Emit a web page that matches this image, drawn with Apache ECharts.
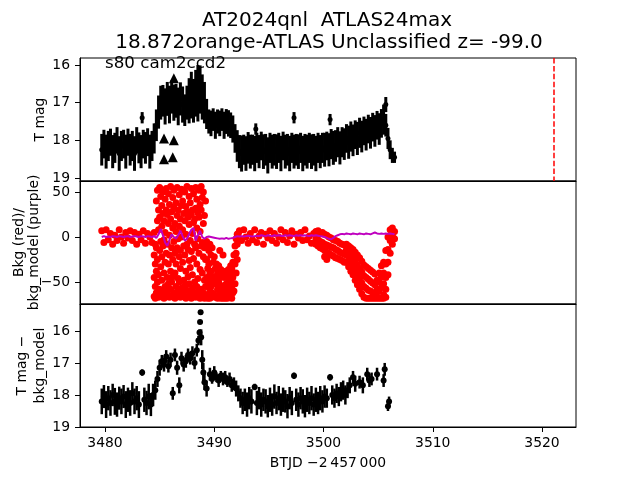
<!DOCTYPE html>
<html><head><meta charset="utf-8">
<script src="https://cdn.jsdelivr.net/npm/echarts@6/dist/echarts.min.js"></script>
<style>html,body{margin:0;padding:0;background:#fff}#c{width:640px;height:480px}</style>
</head><body><div id="c"></div>
<script>
// ---------- axes ----------
const xMin = 3477.71, xMax = 3523.11;
const xTicks = [3480, 3490, 3500, 3510, 3520];
const magTicks = [16, 17, 18, 19];
const bkgTicks = [-50, 0, 50];
const markerT = 3521.04;

// ---------- panel 1: T mag light curve ----------
const p1T = [
3479.7,3479.9,3480.1,3480.3,3480.5,3480.7,3480.9,3481.1,3481.3,3481.5,
3481.7,3481.9,3482.1,3482.3,3482.5,3482.7,3482.9,3483.1,3483.3,3483.5,
3483.7,3483.9,3484.1,3484.3,3484.5,3484.7,3484.9,3485.1,3485.3,3485.5,
3485.7,3485.9,3486.1,3486.3,3486.5,3486.7,3486.9,3487.1,3487.3,3487.5,
3487.7,3487.9,3488.1,3488.3,3488.5,3488.7,3488.9,3489.1,3489.3,3489.5,
3489.7,3489.9,3490.1,3490.3,3490.5,3490.7,3490.9,3491.1,3491.3,3491.5,
3491.7,3491.9,3492.1,3492.3,3492.5,3492.7,3492.9,3493.1,3493.3,3493.5,
3493.7,3493.9,3494.1,3494.3,3494.5,3494.7,3494.9,3495.1,3495.3,3495.5,
3495.7,3495.9,3496.1,3496.3,3496.5,3496.7,3496.9,3497.1,3497.3,3497.5,
3497.7,3497.9,3498.1,3498.3,3498.5,3498.7,3498.9,3499.1,3499.3,3499.5,
3499.7,3499.9,3500.1,3500.3,3500.5,3500.7,3500.9,3501.1,3501.3,3501.5,
3501.7,3501.9,3502.1,3502.3,3502.5,3502.7,3502.9,3503.1,3503.3,3503.5,
3503.7,3503.9,3504.1,3504.3,3504.5,3504.7,3504.9,3505.1,3505.3,3505.5,
3505.7,3505.9,3506.1,3506.3,3506.5];
const p1M = [
18.25,18.1,18.3,18.15,18.05,18.3,18.2,18.0,18.35,18.15,
18.1,18.3,18.05,18.25,18.15,18.35,18.0,18.2,18.3,18.1,
18.2,18.05,18.3,18.15,17.95,17.6,17.25,17.0,16.95,17.1,
16.9,17.05,16.85,17.0,16.95,17.1,16.9,17.05,17.2,17.0,
16.95,16.8,16.95,16.75,16.9,16.65,16.85,17.0,17.3,17.5,
17.55,17.45,17.6,17.5,17.55,17.45,17.6,17.5,17.55,17.6,
17.7,17.95,18.15,18.3,18.35,18.25,18.35,18.2,18.3,18.25,
18.35,18.2,18.3,18.15,18.3,18.25,18.4,18.2,18.3,18.25,
18.3,18.2,18.35,18.15,18.3,18.25,18.35,18.2,18.3,18.25,
18.3,18.2,18.35,18.25,18.3,18.2,18.3,18.25,18.35,18.2,
18.3,18.2,18.25,18.15,18.25,18.1,18.2,18.15,18.05,18.2,
18.05,18.1,17.95,18.05,17.9,18.0,17.85,17.95,17.8,17.9,
17.75,17.85,17.7,17.8,17.65,17.75,17.6,17.7,17.55,17.45,
17.6,17.95,18.25,18.4,18.45];
const p1E = [
0.42,0.38,0.45,0.4,0.36,0.44,0.4,0.35,0.46,0.4,
0.38,0.45,0.36,0.42,0.4,0.46,0.35,0.41,0.44,0.38,
0.42,0.37,0.45,0.4,0.4,0.42,0.44,0.45,0.42,0.48,
0.45,0.5,0.44,0.48,0.45,0.5,0.44,0.48,0.42,0.45,
0.6,0.62,0.58,0.62,0.6,0.64,0.6,0.55,0.4,0.32,
0.34,0.3,0.36,0.32,0.34,0.3,0.36,0.33,0.35,0.34,
0.36,0.38,0.42,0.44,0.48,0.4,0.46,0.42,0.45,0.4,
0.47,0.4,0.44,0.38,0.46,0.42,0.48,0.4,0.45,0.42,
0.46,0.4,0.47,0.38,0.45,0.42,0.47,0.4,0.45,0.42,
0.46,0.4,0.47,0.42,0.45,0.4,0.46,0.42,0.47,0.4,
0.44,0.4,0.45,0.38,0.44,0.4,0.45,0.42,0.4,0.44,
0.4,0.42,0.38,0.44,0.4,0.42,0.38,0.44,0.4,0.42,
0.38,0.42,0.38,0.42,0.38,0.42,0.38,0.42,0.38,0.4,
0.3,0.28,0.25,0.2,0.15];
// isolated points above the band
const p1OutT = [3483.4, 3488.5, 3493.8, 3497.3, 3500.6, 3505.7];
const p1OutM = [17.4, 16.2, 17.7, 17.4, 17.45, 17.05];
const p1OutE = [0.15, 0.2, 0.15, 0.15, 0.15, 0.2];
// triangle markers
const triT = [3485.4, 3486.2, 3485.4, 3486.3, 3486.3];
const triM = [18.5, 18.45, 17.95, 18.0, 16.35];

// ---------- panel 2: background (red) ----------
const bkgQuiet1 = [
[3479.7,7],[3479.9,-6],[3480.1,8],[3480.3,-3],[3480.5,4],[3480.7,-8],[3480.9,2],[3481.1,-4],
[3481.3,8],[3481.5,0],[3481.7,-7],[3481.9,5],[3482.1,-1],[3482.3,7],[3482.5,-4],[3482.7,5],
[3482.9,-8],[3483.1,3],[3483.3,-3],[3483.5,7],[3483.7,-7],[3483.9,4],[3484.1,0],[3484.3,-6]];
const bkgBurst = [
[3484.5,5,-20,-45,-66],[3484.6,-8,-30,-55,-68],[3484.7,40,-12,-38,-62],[3484.8,52,18,-25,-50],
[3484.9,30,8,-42,-67],[3485.0,55,22,-15,-58],[3485.1,45,-5,-33,-64],[3485.2,35,12,-22,-48],
[3485.3,50,26,-10,-60],[3485.4,18,-3,-40,-68],[3485.5,42,5,-28,-55],[3485.6,54,30,-18,-66],
[3485.7,25,-8,-45,-60],[3485.8,48,15,-30,-52],[3485.9,36,2,-20,-67],[3486.0,56,20,-38,-58],
[3486.1,28,-12,-50,-65],[3486.2,44,10,-25,-44],[3486.3,52,33,-5,-62],[3486.4,15,-18,-40,-68],
[3486.5,38,6,-30,-55],[3486.6,55,24,-12,-64],[3486.7,30,-2,-46,-60],[3486.8,47,12,-22,-50],
[3486.9,20,-15,-35,-67],[3487.0,53,35,0,-57],[3487.1,40,8,-28,-65],[3487.2,26,-10,-48,-61],
[3487.3,50,18,-20,-54],[3487.4,34,3,-38,-68],[3487.5,56,28,-8,-59],[3487.6,22,-14,-44,-66],
[3487.7,45,14,-26,-52],[3487.8,38,-4,-34,-63],[3487.9,54,25,-16,-68],[3488.0,30,4,-42,-57],
[3488.1,48,16,-24,-65],[3488.2,20,-8,-50,-62],[3488.3,55,32,-12,-67],[3488.4,42,10,-30,-55],
[3488.5,27,-2,-46,-64],[3488.6,52,22,-18,-60],[3488.7,36,6,-36,-68],[3488.8,56,30,-10,-58],
[3488.9,44,-6,-40,-66],[3489.0,50,15,-22,-62],[3489.1,24,-12,-48,-68],[3489.2,40,-25,-55,-64]];
const bkgDip1 = [
[3489.3,-5,-25,-45,-65],[3489.4,-10,-35,-55,-68],[3489.5,-15,-30,-50,-66],[3489.6,-8,-40,-60,-68],
[3489.7,-20,-38,-55,-67],[3489.8,-12,-45,-62],[3489.9,-28,-50,-66],[3490.0,-22,-44,-64],
[3490.1,-35,-52,-67],[3490.2,-30,-48,-66],[3490.3,-40,-58,-68],[3490.4,-32,-50,-67],
[3490.5,-15,-45,-62],[3490.6,-36,-55,-68],[3490.7,-42,-60,-66],[3490.8,-20,-38,-54,-68],
[3490.9,-45,-62,-67],[3491.0,-40,-56,-68],[3491.1,-38,-52,-66],[3491.2,-44,-60,-68],
[3491.3,-36,-50,-67],[3491.4,-40,-58,-66],[3491.5,-32,-48,-64],[3491.6,-35,-55,-68],
[3491.7,-28,-45,-62],[3491.8,-20,-40,-60],[3491.9,-10,-30,-52],[3492.0,-2,-18,-40],
[3492.1,3,-8,-25],[3492.2,4,-3]];
const bkgQuiet2 = [
[3492.3,7],[3492.5,-4],[3492.7,8],[3492.9,0],[3493.1,-7],[3493.3,4],[3493.5,-3],[3493.7,8],
[3493.9,-6],[3494.1,1],[3494.3,5],[3494.5,-8],[3494.7,3],[3494.9,-1],[3495.1,7],[3495.3,-4],
[3495.5,4],[3495.7,-7],[3495.9,0],[3496.1,8],[3496.3,-3],[3496.5,5],[3496.7,-6],[3496.9,1],
[3497.1,7],[3497.3,-8],[3497.5,3],[3497.7,-1],[3497.9,5],[3498.1,-4],[3498.3,8],[3498.5,-3],
[3498.7,1],[3498.9,-7],[3499.1,4]];
const bkgDecline = [
[3499.3,6,-2,-8],[3499.5,7,-3,-10],[3499.7,4,-5,-12],[3499.9,5,-6,-13],[3500.1,3,-8,-15,-22],
[3500.3,2,-9,-17,-25],[3500.5,0,-10,-18],[3500.7,-1,-11,-20],[3500.9,-3,-12,-21],[3501.1,-4,-14,-23],
[3501.3,-5,-15,-24],[3501.5,-7,-17,-25],[3501.7,-8,-18,-26],[3501.9,-9,-19,-28]];
const bkgDip2 = [
[3502.1,-8,-14,-20,-28],[3502.3,-10,-17,-25,-33],[3502.5,-12,-20,-29,-38],[3502.7,-14,-23,-33,-42],
[3502.9,-17,-27,-38,-48],[3503.1,-20,-31,-42,-53],[3503.3,-23,-35,-46,-58],[3503.5,-27,-39,-51,-63],
[3503.7,-31,-43,-55,-67],[3503.9,-33,-45,-57,-68],[3504.1,-35,-47,-59,-68],[3504.3,-37,-49,-60,-68],
[3504.5,-39,-51,-62,-68],[3504.7,-41,-53,-63,-68],[3504.9,-48,-58,-66,-68],[3505.1,-40,-50,-60,-68],
[3505.3,-32,-44,-56,-68],[3505.5,-28,-40,-52,-64,-68],[3505.7,-15,-30,-45,-58,-67],[3505.9,0,-14,-28,-42],
[3506.1,8,-4,-18],[3506.3,10,2,-8],[3506.5,6,-2]];
// background model (purple), sampled at p1T
const bkgModel = [
0,1,0,0.5,0,1,0.5,0,1,0.5,
0,0.5,1,0,0.5,1,0.5,0,1,0.5,
0,1,0.5,0,1,-1,3,9,2,-6,
-10,-3,3,0,-2,2,7,1,-4,-2,
3,8,10,-4,2,7,0,-2,0,0.5,
0,-0.5,-1,-1.5,-2,-1.5,-2,-1,-2,-1.5,
-1,0,1,0.5,1,0.5,1,1.5,1,0.5,
1,1.5,1,2,1.5,1,2,1.5,1,2,
1.5,2,1.5,1,2,1.5,2,1.5,1,2,
1.5,2,1.5,2,1.5,1,2,1.5,2,1.5,
1,0.5,0,-1,-2,-2.5,-1,1,2,3,
3.5,3,4,3.5,3,4,3.5,3,4,3.5,
3,4,3.5,3,4,5,4,3.5,4,3.5,
4,3.5,4,3.5,3];

// ---------- panel 3: T mag - bkg_model ----------
const p3T = [
3479.7,3479.9,3480.1,3480.3,3480.5,3480.7,3480.9,3481.1,3481.3,3481.5,
3481.7,3481.9,3482.1,3482.3,3482.5,3482.7,3482.9,3483.1,3483.4,3483.6,
3483.8,3484.0,3484.2,3484.4,3484.6,3484.8,3485.0,3485.2,3485.4,3485.6,
3485.8,3486.0,3486.2,3486.4,3486.6,3486.8,3487.0,3487.2,3487.4,3487.6,
3487.8,3488.0,3488.2,3488.4,3488.55,3488.65,3488.7,3488.75,3488.8,3488.9,
3489.0,3489.1,3489.3,3489.6,3489.8,3490.0,3490.2,3490.4,3490.6,3490.8,
3491.0,3491.2,3491.4,3491.6,3491.8,3492.0,3492.2,3492.4,3492.6,3492.8,
3493.0,3493.2,3493.4,3493.7,3493.9,3494.1,3494.3,3494.5,3494.7,3494.9,
3495.1,3495.3,3495.5,3495.7,3495.9,3496.1,3496.3,3496.5,3496.7,3496.9,
3497.1,3497.3,3497.5,3497.7,3497.9,3498.1,3498.3,3498.5,3498.7,3498.9,
3499.1,3499.3,3499.5,3499.7,3499.9,3500.1,3500.3,3500.6,3500.8,3501.0,
3501.2,3501.4,3501.6,3501.8,3502.0,3502.2,3502.4,3502.7,3502.9,3503.3,
3503.6,3504.0,3504.2,3504.4,3504.9,3505.5,3505.6,3505.9,3506.0];
const p3M = [
18.2,18.05,18.3,18.1,18.25,18.0,18.2,18.3,18.1,18.2,
18.05,18.3,18.15,18.25,17.95,18.2,18.1,18.3,17.3,18.15,
18.25,18.05,18.3,18.0,17.85,17.5,17.15,16.95,17.05,16.8,
17.1,16.9,17.95,16.75,17.15,17.7,16.85,17.05,16.95,16.75,
16.85,16.7,17.0,16.6,16.3,16.05,15.72,15.42,16.2,16.9,
17.3,17.6,17.8,17.35,17.5,17.3,17.45,17.55,17.4,17.5,
17.45,17.6,17.5,17.7,17.65,17.8,17.95,18.1,18.25,18.15,
18.3,18.1,18.2,17.75,18.25,18.1,18.3,18.15,18.2,18.35,
18.15,18.3,18.05,18.25,18.1,18.3,18.15,18.2,18.35,18.1,
18.25,17.4,18.15,18.3,18.1,18.2,18.35,18.15,18.25,18.1,
18.3,18.15,18.25,18.1,18.2,18.05,18.1,17.45,18.0,18.1,
17.95,18.05,17.9,17.85,18.0,17.85,17.7,17.45,17.65,17.6,
17.7,17.35,17.55,17.5,17.35,17.55,17.2,18.35,18.2];
const p3E = [
0.4,0.36,0.42,0.38,0.4,0.35,0.42,0.38,0.36,0.4,
0.36,0.42,0.38,0.4,0.35,0.4,0.38,0.42,0.1,0.38,
0.38,0.4,0.36,0.35,0.3,0.25,0.25,0.2,0.22,0.2,
0.2,0.22,0.2,0.2,0.22,0.25,0.2,0.22,0.2,0.2,
0.2,0.22,0.2,0.2,0.15,0.1,0.05,0.05,0.25,0.3,
0.3,0.25,0.25,0.2,0.15,0.2,0.15,0.2,0.15,0.2,
0.2,0.15,0.2,0.2,0.2,0.25,0.25,0.3,0.35,0.35,
0.38,0.35,0.38,0.1,0.38,0.35,0.38,0.35,0.38,0.35,
0.38,0.35,0.38,0.35,0.38,0.35,0.38,0.35,0.38,0.35,
0.38,0.1,0.35,0.38,0.35,0.38,0.35,0.38,0.35,0.38,
0.35,0.38,0.35,0.38,0.35,0.35,0.3,0.1,0.3,0.3,
0.3,0.3,0.3,0.3,0.3,0.25,0.25,0.2,0.25,0.2,
0.25,0.2,0.2,0.2,0.2,0.2,0.2,0.15,0.15];

// ---------- build ----------
const FONT = 'DejaVu Sans';
const zip3 = (a, b, c) => a.map((t, i) => [t, b[i], c[i]]);
const p1Err = zip3(p1T, p1M, p1E).concat(zip3(p1OutT, p1OutM, p1OutE));
const p3Err = zip3(p3T, p3M, p3E);
const rowsToPts = rows => rows.flatMap(r => r.slice(1).map(v => [r[0], v]));
const bkgPts = [bkgQuiet1, bkgBurst, bkgDip1, bkgQuiet2, bkgDecline, bkgDip2].flatMap(rowsToPts);

const errRender = w => function (params, api) {
  const t = api.value(0), m = api.value(1), e = api.value(2);
  const a = api.coord([t, m - e]), b = api.coord([t, m + e]);
  return { type: 'line', shape: { x1: a[0], y1: a[1], x2: b[0], y2: b[1] },
           style: { stroke: '#000', lineWidth: w } };
};

const gridTops = [58, 181, 304];
const grids = gridTops.map(t => ({ left: 80, right: 64, top: t, height: 123, show: true,
  borderColor: '#000', borderWidth: 1, backgroundColor: 'transparent', containLabel: false }));

const xAxes = [0, 1, 2].map(i => ({
  gridIndex: i, type: 'value', min: xMin, max: xMax,
  axisLine: { show: true, onZero: false, lineStyle: { color: '#000', width: 1 } },
  axisTick: { show: i === 2, customValues: xTicks, length: 5, lineStyle: { color: '#000' } },
  axisLabel: { show: i === 2, customValues: xTicks, color: '#000', fontSize: 13.9, fontFamily: FONT, margin: 9,
    formatter: v => String(v) },
  splitLine: { show: false }
}));
function yAx(i, min, max, ticks, inverse) {
  return {
    gridIndex: i, type: 'value', min, max, inverse,
    axisLine: { show: true, onZero: false, lineStyle: { color: '#000', width: 1 } },
    axisTick: { show: true, customValues: ticks, length: 5, lineStyle: { color: '#000' } },
    axisLabel: { customValues: ticks, color: '#000', fontSize: 13.9, fontFamily: FONT, margin: 10,
      formatter: v => String(v).replace('-', '\u2212') },
    splitLine: { show: false }
  };
}
const yAxes = [
  yAx(0, 15.814, 19.08, magTicks, true),
  yAx(1, -74.4, 62.2, bkgTicks, false),
  yAx(2, 15.16, 19.0, magTicks, true)
];

const txt = (x, y, text, size, rot, extra) => ({
  type: 'text', x, y, rotation: rot || 0, silent: true,
  style: Object.assign({ text, fill: '#000', font: size + 'px "' + FONT + '"',
    textAlign: 'center', textVerticalAlign: 'middle', align: 'center', verticalAlign: 'middle' }, extra || {})
});

const option = {
  animation: false,
  backgroundColor: '#fff',
  grid: grids, xAxis: xAxes, yAxis: yAxes,
  series: [
    { type: 'custom', xAxisIndex: 0, yAxisIndex: 0, renderItem: errRender(3), data: p1Err,
      encode: { x: 0, y: 1 }, clip: true, z: 2 },
    { type: 'scatter', xAxisIndex: 0, yAxisIndex: 0, symbol: 'circle', symbolSize: 5,
      itemStyle: { color: '#000', opacity: 1, borderWidth: 0 }, data: p1Err.map(d => [d[0], d[1]]), z: 3,
      markLine: { silent: true, symbol: ['none', 'none'], label: { show: false },
        lineStyle: { color: '#ff0000', type: [5.5, 2.4], width: 1.5 },
        data: [{ xAxis: markerT }] } },
    { type: 'scatter', xAxisIndex: 0, yAxisIndex: 0, symbol: 'triangle', symbolSize: 10,
      itemStyle: { color: '#000', opacity: 1, borderWidth: 0 }, data: triT.map((t, i) => [t, triM[i]]), z: 4 },
    { type: 'scatter', xAxisIndex: 1, yAxisIndex: 1, symbol: 'circle', symbolSize: 7,
      itemStyle: { color: '#ff0000', opacity: 1, borderWidth: 0, borderColor: '#ff0000' }, data: bkgPts, z: 2, clip: true },
    { type: 'line', xAxisIndex: 1, yAxisIndex: 1, showSymbol: false, symbol: 'none',
      lineStyle: { color: '#bf00bf', width: 2 }, data: p1T.map((t, i) => [t, bkgModel[i]]), z: 5 },
    { type: 'custom', xAxisIndex: 2, yAxisIndex: 2, renderItem: errRender(2.5), data: p3Err,
      encode: { x: 0, y: 1 }, clip: true, z: 2 },
    { type: 'scatter', xAxisIndex: 2, yAxisIndex: 2, symbol: 'circle', symbolSize: 6,
      itemStyle: { color: '#000', opacity: 1, borderWidth: 0 }, data: p3Err.map(d => [d[0], d[1]]), z: 3 }
  ],
  graphic: [
    txt(327, 21, 'AT2024qnl  ATLAS24max', 20),
    txt(329, 43, '18.872orange-ATLAS Unclassified z= -99.0', 20),
    txt(105, 64, 's80 cam2ccd2', 16.7, 0, { textAlign: 'left', align: 'left' }),
    txt(40, 119.5, 'T mag', 13.9, Math.PI / 2),
    txt(27, 242.5, 'Bkg (red)/\nbkg_model (purple)', 13.9, Math.PI / 2, { lineHeight: 15 }),
    txt(31, 365.5, 'T mag \u2212\nbkg_model', 13.9, Math.PI / 2, { lineHeight: 18 }),
    txt(328, 463, 'BTJD \u22122\u2009457\u2009000', 13.9)
  ]
};
const chart = echarts.init(document.getElementById('c'), null, { renderer: 'canvas' });
chart.setOption(option);
</script></body></html>
